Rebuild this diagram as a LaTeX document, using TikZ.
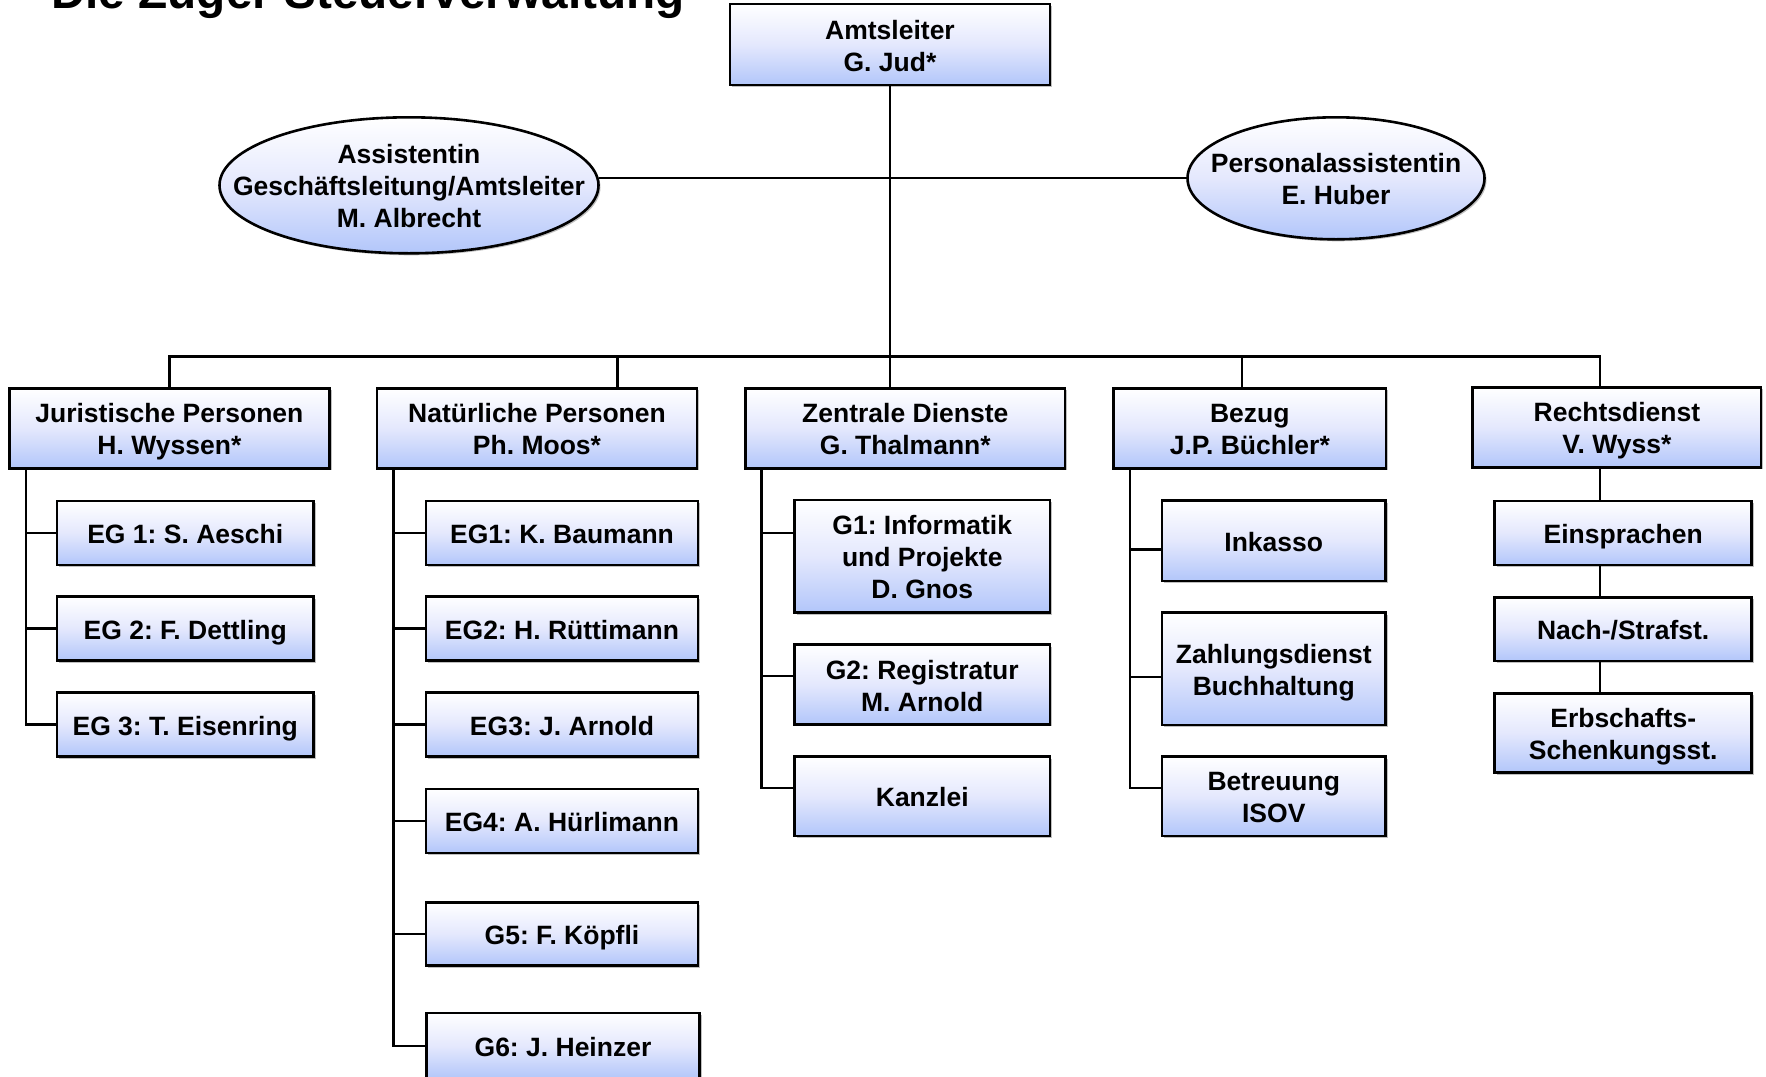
\documentclass[tikz,border=0pt]{standalone}
\usepackage{fontspec}
\setmainfont{Liberation Sans}
\usetikzlibrary{shapes.geometric,shadows}
\definecolor{boxbot}{RGB}{178,198,250}
\definecolor{boxmid}{RGB}{228,232,253}
\newcommand{\Ft}{\rule{0pt}{31pt}}
\newcommand{\Lb}{\rule[-10pt]{0pt}{10pt}}
\newcommand{\Tx}[1]{\Ft#1\Lb}
\tikzset{
  orgfill/.style={draw=black, line width=2.6pt, inner sep=0pt,
    top color=white, bottom color=boxbot, middle color=boxmid,
    drop shadow={shadow xshift=2pt, shadow yshift=-2pt, fill=black, opacity=0.25}},
  orgtext/.style={align=center, inner sep=0pt,
    font=\bfseries\fontsize{26.5}{32}\selectfont\frenchspacing},
  orgbox/.style={orgfill, rectangle, orgtext},
  orgell/.style={orgfill, ellipse},
  conn/.style={line width=2.4pt, line cap=rect}
}
\begin{document}
\begin{tikzpicture}[x=1pt,y=-1pt]
\clip (0,0) rectangle (1766,1076);
\fill[white] (0,0) rectangle (1766,1076);
% title (cut off at top)
\node[anchor=base west, inner sep=0pt, font=\bfseries\fontsize{47.7}{52}\selectfont] (title) at (51,8.5) {Die Zuger Steuerverwaltung};
% top
\node[orgbox, minimum width=320, minimum height=81] (amt) at (890,44.5) {\Tx{Amtsleiter\\G. Jud*}};
\node[orgell, minimum width=379, minimum height=136] (asst) at (409,185.3) {};
\node[orgtext] (assttxt) at (asst.center) {\Tx{Assistentin\\Geschäftsleitung/Amtsleiter\\M. Albrecht}};
\node[orgell, minimum width=297, minimum height=122] (pers) at (1336,178.3) {};
\node[orgtext] (perstxt) at (pers.center) {\Tx{Personalassistentin\\E. Huber}};
% departments
\node[orgbox, minimum width=320.4, minimum height=80] (jur) at (169.4,428.3) {\Tx{Juristische Personen\\H. Wyssen*}};
\node[orgbox, minimum width=320, minimum height=80] (nat) at (537,428.3) {\Tx{Natürliche Personen\\Ph. Moos*}};
\node[orgbox, minimum width=319.5, minimum height=80] (zen) at (905.3,428.3) {\Tx{Zentrale Dienste\\G. Thalmann*}};
\node[orgbox, minimum width=272.5, minimum height=80] (bez) at (1249.8,428.3) {\Tx{Bezug\\J.P. Büchler*}};
\node[orgbox, minimum width=288.3, minimum height=80] (rec) at (1616.9,427.3) {\Tx{Rechtsdienst\\V. Wyss*}};
% column 1
\node[orgbox, minimum width=256.5, minimum height=64] (eg11) at (185.25,533) {\Tx{EG 1: S. Aeschi}};
\node[orgbox, minimum width=256.5, minimum height=64] (eg12) at (185.25,628.5) {\Tx{EG 2: F. Dettling}};
\node[orgbox, minimum width=256.5, minimum height=64] (eg13) at (185.25,724.5) {\Tx{EG 3: T. Eisenring}};
% column 2
\node[orgbox, minimum width=272, minimum height=64] (n1) at (562,533) {\Tx{EG1: K. Baumann}};
\node[orgbox, minimum width=272, minimum height=64] (n2) at (562,628.5) {\Tx{EG2: H. Rüttimann}};
\node[orgbox, minimum width=272, minimum height=64] (n3) at (562,724.5) {\Tx{EG3: J. Arnold}};
\node[orgbox, minimum width=272, minimum height=64] (n4) at (562,821) {\Tx{EG4: A. Hürlimann}};
\node[orgbox, minimum width=272, minimum height=63] (n5) at (562,934) {\Tx{G5: F. Köpfli}};
\node[orgbox, minimum width=273, minimum height=66] (n6) at (563,1046) {\Tx{G6: J. Heinzer}};
% column 3
\node[orgbox, minimum width=255.5, minimum height=112.7] (g1) at (922.25,556.35) {\Tx{G1: Informatik\\und Projekte\\D. Gnos}};
\node[orgbox, minimum width=255.5, minimum height=79.6] (g2) at (922.25,684.5) {\Tx{G2: Registratur\\M. Arnold}};
\node[orgbox, minimum width=255.5, minimum height=79.3] (kz) at (922.25,796.35) {\Tx{Kanzlei}};
% column 4
\node[orgbox, minimum width=223.5, minimum height=80.3] (ink) at (1273.75,540.85) {\Tx{Inkasso}};
\node[orgbox, minimum width=223.5, minimum height=112.3] (zah) at (1273.75,668.85) {\Tx{Zahlungsdienst\\Buchhaltung}};
\node[orgbox, minimum width=223.5, minimum height=79.3] (bet) at (1273.75,796.35) {\Tx{Betreuung\\ISOV}};
% column 5
\node[orgbox, minimum width=257, minimum height=64] (ein) at (1623.2,533) {\Tx{Einsprachen}};
\node[orgbox, minimum width=257, minimum height=63.7] (nac) at (1623.2,629.15) {\Tx{Nach-/Strafst.}};
\node[orgbox, minimum width=257, minimum height=79.4] (erb) at (1623.2,733) {\Tx{Erbschafts-\\Schenkungsst.}};
% helper coordinates
\coordinate (hl) at (0,177.7);
\coordinate (bus) at (0,356.5);
\coordinate (natx) at (617.5,0);
\coordinate (bezx) at (1242,0);
\coordinate (recx) at (1600,0);
\coordinate (s1) at (26,0);
\coordinate (s2) at (393.3,0);
\coordinate (s3) at (761.5,0);
\coordinate (s4) at (1130,0);
\coordinate (c3a) at (0,532.7);
\coordinate (c3b) at (0,676);
\coordinate (c3c) at (0,787.7);
\coordinate (c4a) at (0,549.3);
\coordinate (c4b) at (0,676.7);
% top connectors
\draw[conn] (asst.east |- hl) -- (pers.west |- hl);
\draw[conn] (amt.south) -- (amt.south |- zen.north);
\draw[conn] (jur.north) -- (jur.north |- bus) -- (recx |- bus) -- (recx |- rec.north);
\draw[conn] (natx |- bus) -- (natx |- nat.north);
\draw[conn] (bezx |- bus) -- (bezx |- bez.north);
% column 1
\draw[conn] (s1 |- jur.south) -- (s1 |- eg13.west) -- (eg13.west);
\draw[conn] (s1 |- eg11.west) -- (eg11.west);
\draw[conn] (s1 |- eg12.west) -- (eg12.west);
% column 2
\draw[conn] (s2 |- nat.south) -- (s2 |- n6.west) -- (n6.west);
\draw[conn] (s2 |- n1.west) -- (n1.west);
\draw[conn] (s2 |- n2.west) -- (n2.west);
\draw[conn] (s2 |- n3.west) -- (n3.west);
\draw[conn] (s2 |- n4.west) -- (n4.west);
\draw[conn] (s2 |- n5.west) -- (n5.west);
% column 3
\draw[conn] (s3 |- zen.south) -- (s3 |- c3c) -- (kz.west |- c3c);
\draw[conn] (s3 |- c3a) -- (g1.west |- c3a);
\draw[conn] (s3 |- c3b) -- (g2.west |- c3b);
% column 4
\draw[conn] (s4 |- bez.south) -- (s4 |- c3c) -- (bet.west |- c3c);
\draw[conn] (s4 |- c4a) -- (ink.west |- c4a);
\draw[conn] (s4 |- c4b) -- (zah.west |- c4b);
% column 5
\draw[conn] (recx |- rec.south) -- (recx |- ein.north);
\draw[conn] (recx |- ein.south) -- (recx |- nac.north);
\draw[conn] (recx |- nac.south) -- (recx |- erb.north);
\end{tikzpicture}
\end{document}
